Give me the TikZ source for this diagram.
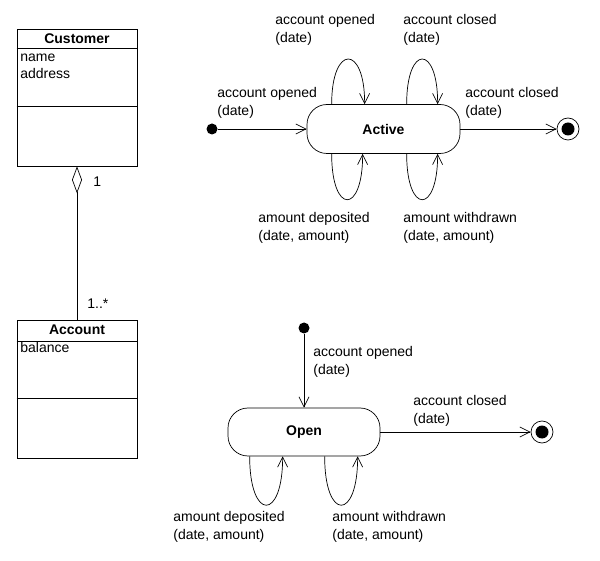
\documentclass[tikz,border=0pt]{standalone}
\usepackage{fontspec}
\setmainfont{Liberation Sans}
\usepackage{tikz}
\usetikzlibrary{arrows.meta, positioning, calc}

\begin{document}
\begin{tikzpicture}[x=1pt, y=-1pt, line width=0.7pt,
    every node/.style={font=\fontsize{14}{18}\selectfont, inner sep=0pt},
    >={Straight Barb[length=10pt, width=10pt]},
    classbox/.style={draw, rectangle, minimum width=120pt, minimum height=137pt},
    stbox/.style={draw, rectangle, rounded corners=20pt, minimum width=153pt, minimum height=49pt},
    startdot/.style={circle, fill=black, minimum size=11pt},
    enddot/.style={circle, draw, minimum size=22pt, path picture={\fill (path picture bounding box.center) circle (6.5pt);}},
    lbl/.style={anchor=base west, align=left}]
    \useasboundingbox (0,0) rectangle (600,561);

    % class diagram
    \node[classbox] (cust) at (77,97.5) {};
    \draw ([yshift=-20pt]cust.north west) -- ([yshift=-20pt]cust.north east);
    \draw ([yshift=-78pt]cust.north west) -- ([yshift=-78pt]cust.north east);
    \node[anchor=base] (custname) at (77,44) {\bfseries Customer};
    \node[lbl, font=\fontsize{14}{17}\selectfont] (custattr) at (20,79) {name\\address};

    \node[classbox, minimum height=138pt] (acct) at (77,389) {};
    \draw ([yshift=-22pt]acct.north west) -- ([yshift=-22pt]acct.north east);
    \draw ([yshift=-79pt]acct.north west) -- ([yshift=-79pt]acct.north east);
    \node[anchor=base] (acctname) at (77,335) {\bfseries Account};
    \node[lbl] (acctattr) at (20,353) {balance};

    \draw[{Diamond[open, length=27pt, width=10pt]}-] (cust.south) -- (acct.north);
    \node[lbl] (mult1) at (93,187) {1};
    \node[lbl] (mult2) at (87,309) {1..*};

    % Active
    \node[startdot] (ini1) at (212,129) {};
    \node[stbox] (act) at (383.5,129) {\bfseries Active};
    \node[enddot] (fin1) at (568,129) {};
    \draw[->] (ini1) -- (act);
    \draw[->] (act) -- (fin1);
    \draw[->] ([xshift=25pt]act.north west) .. controls +(0,-60) and +(0,-60) .. ([xshift=58pt]act.north west);
    \draw[->] ([xshift=100pt]act.north west) .. controls +(0,-60) and +(0,-60) .. ([xshift=131pt]act.north west);
    \draw[->] ([xshift=25pt]act.south west) .. controls +(0,61) and +(0,61) .. ([xshift=56pt]act.south west);
    \draw[->] ([xshift=100pt]act.south west) .. controls +(0,61) and +(0,61) .. ([xshift=131pt]act.south west);

    \node[lbl] (l1) at (217,116) {account opened\\(date)};
    \node[lbl] (l2) at (465,116) {account closed\\(date)};
    \node[lbl] (l3) at (275,43) {account opened\\(date)};
    \node[lbl] (l4) at (403,43) {account closed\\(date)};
    \node[lbl] (l5) at (258,241) {amount deposited\\(date, amount)};
    \node[lbl] (l6) at (403,241) {amount withdrawn\\(date, amount)};

    % Open
    \node[startdot] (ini2) at (304,328) {};
    \node[stbox, minimum width=152pt, minimum height=48pt] (opn) at (304,432) {\bfseries Open};
    \node[enddot] (fin2) at (542,432) {};
    \draw[->] (ini2) -- (opn);
    \draw[->] (opn) -- (fin2);
    \draw[->] ([xshift=22pt]opn.south west) .. controls +(0,65) and +(0,65) .. ([xshift=55pt]opn.south west);
    \draw[->] ([xshift=97pt]opn.south west) .. controls +(0,65) and +(0,65) .. ([xshift=130pt]opn.south west);

    \node[lbl] (l7) at (313,374) {account opened\\(date)};
    \node[lbl] (l8) at (413,424) {account closed\\(date)};
    \node[lbl] (l9) at (173,539) {amount deposited\\(date, amount)};
    \node[lbl] (l10) at (332,539) {amount withdrawn\\(date, amount)};
\end{tikzpicture}
\end{document}
